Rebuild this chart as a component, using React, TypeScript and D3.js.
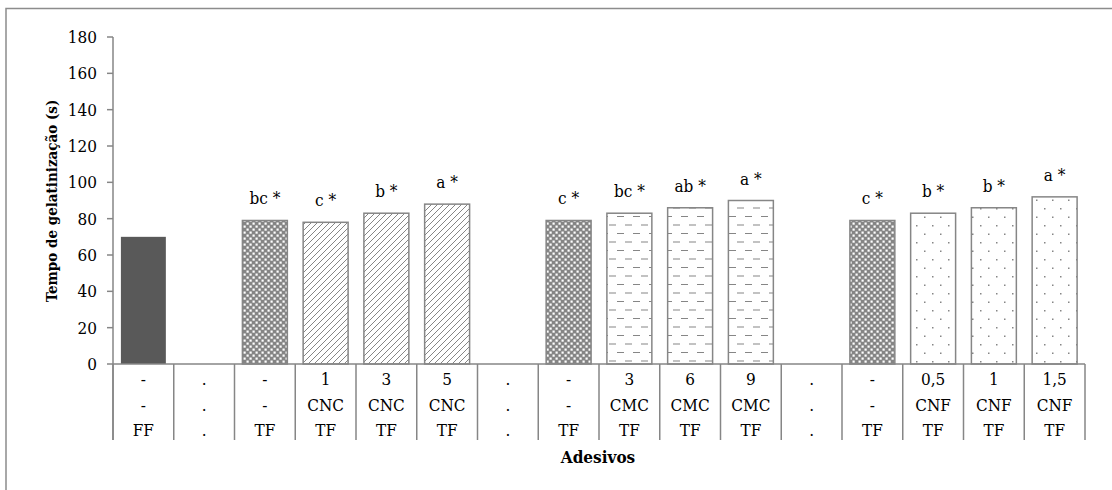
import React from "react";
import * as d3 from "d3";

// rows of the multi-level category axis (top -> bottom)
const concentracao = ["-", ".", "-", "1", "3", "5", ".", "-", "3", "6", "9", ".", "-", "0,5", "1", "1,5"];
const aditivo = ["-", ".", "-", "CNC", "CNC", "CNC", ".", "-", "CMC", "CMC", "CMC", ".", "-", "CNF", "CNF", "CNF"];
const base = ["FF", ".", "TF", "TF", "TF", "TF", ".", "TF", "TF", "TF", "TF", ".", "TF", "TF", "TF", "TF"];
const tempo: (number | null)[] = [70, null, 79, 78, 83, 88, null, 79, 83, 86, 90, null, 79, 83, 86, 92];
const letras = ["", "", "bc *", "c *", "b *", "a *", "", "c *", "bc *", "ab *", "a *", "", "c *", "b *", "b *", "a *"];
const yTicks = [0, 20, 40, 60, 80, 100, 120, 140, 160, 180];

const W = 1112;
const H = 490;
const plot = { left: 113, right: 1085, top: 37, bottom: 364 };
const GRAY = "#868686";
const FONT = "'DejaVu Serif Condensed', 'DejaVu Serif', serif";
const FS = 17;

function fillFor(i: number) {
  if (base[i] === "FF") return "#595959";
  if (aditivo[i] === "CNC") return "url(#pCNC)";
  if (aditivo[i] === "CMC") return "url(#pCMC)";
  if (aditivo[i] === "CNF") return "url(#pCNF)";
  return "url(#pTF)";
}

export default function App() {
  const idx = d3.range(base.length);
  const x = d3.scaleBand<number>()
    .domain(idx)
    .range([plot.left, plot.right])
    .paddingInner(0.26)
    .paddingOuter(0.13);
  const y = d3.scaleLinear().domain([0, 180]).range([plot.bottom, plot.top]);
  const y0 = y(0);
  const step = x.step();
  const bounds = d3.range(base.length + 1).map(k => plot.left + k * step);
  const rows = [concentracao, aditivo, base];
  const rowBase = [385, 410.5, 436];

  return (
    <div style={{ position: "fixed", left: 0, top: 0, fontFamily: FONT }}>
      <svg width={W} height={H} style={{ display: "block", background: "#fff", fontFamily: FONT }}>
        <defs>
          <pattern id="pTF" width={6} height={6} patternUnits="userSpaceOnUse">
            <rect width={6} height={6} fill="#858585" />
            <rect x={0.5} y={0.5} width={2.2} height={2.2} fill="#fff" />
            <rect x={3.5} y={3.5} width={2.2} height={2.2} fill="#fff" />
          </pattern>
          <pattern id="pCNC" width={6} height={6} patternUnits="userSpaceOnUse">
            <rect width={6} height={6} fill="#fff" />
            <path d="M-1,1 L1,-1 M0,6 L6,0 M5,7 L7,5" stroke={GRAY} strokeWidth={1} />
          </pattern>
          <pattern id="pCMC" width={16} height={17} patternUnits="userSpaceOnUse">
            <rect width={16} height={17} fill="#fff" />
            <path d="M1,4 H8 M9,12.5 H16" stroke={GRAY} strokeWidth={1.2} />
          </pattern>
          <pattern id="pCNF" width={16} height={17} patternUnits="userSpaceOnUse">
            <rect width={16} height={17} fill="#fff" />
            <rect x={4} y={4} width={1.5} height={1.5} fill={GRAY} />
            <rect x={12} y={12.5} width={1.5} height={1.5} fill={GRAY} />
          </pattern>
        </defs>

        {/* chart area border (only top/left visible) */}
        <path d={`M6,${H} V8.5 H${W}`} fill="none" stroke="#8c8c8c" strokeWidth={1.5} />

        {/* y axis */}
        <line x1={plot.left} x2={plot.left} y1={y(180)} y2={440} stroke={GRAY} strokeWidth={1.5} />
        {yTicks.map(t => (
          <g key={t}>
            <line x1={107} x2={plot.left} y1={y(t)} y2={y(t)} stroke={GRAY} strokeWidth={1.5} />
            <text x={97} y={y(t)} dy="0.35em" textAnchor="end" fontSize={FS}>{t}</text>
          </g>
        ))}
        <text
          transform={`translate(52,201) rotate(-90)`}
          textAnchor="middle"
          dy="0.35em"
          fontSize={15}
          fontWeight="bold"
        >
          Tempo de gelatinização (s)
        </text>

        {/* bars */}
        {idx.map(i => {
          const v = tempo[i];
          if (v == null) return null;
          return (
            <rect
              key={i}
              x={x(i)}
              y={y(v)}
              width={x.bandwidth()}
              height={y0 - y(v)}
              fill={fillFor(i)}
              stroke={base[i] === "FF" ? "none" : GRAY}
              strokeWidth={1.5}
            />
          );
        })}
        {idx.map(i => {
          const v = tempo[i];
          if (v == null || !letras[i]) return null;
          return (
            <text key={"l" + i} x={(x(i) ?? 0) + x.bandwidth() / 2} y={y(v) - 16} textAnchor="middle" fontSize={FS}>
              {letras[i]}
            </text>
          );
        })}

        {/* x axis + category table */}
        <line x1={plot.left} x2={plot.right} y1={y0} y2={y0} stroke={GRAY} strokeWidth={1.5} />
        {bounds.map((bx, k) => (
          <line key={"d" + k} x1={bx} x2={bx} y1={y0} y2={440} stroke={GRAY} strokeWidth={1.5} />
        ))}
        {rows.map((row, r) =>
          row.map((lab, i) => (
            <text
              key={`t${r}-${i}`}
              x={(x(i) ?? 0) + x.bandwidth() / 2}
              y={rowBase[r]}
              textAnchor="middle"
              fontSize={FS}
            >
              {lab}
            </text>
          ))
        )}
        <text x={598} y={463} textAnchor="middle" fontSize={FS} fontWeight="bold">Adesivos</text>
      </svg>
    </div>
  );
}
